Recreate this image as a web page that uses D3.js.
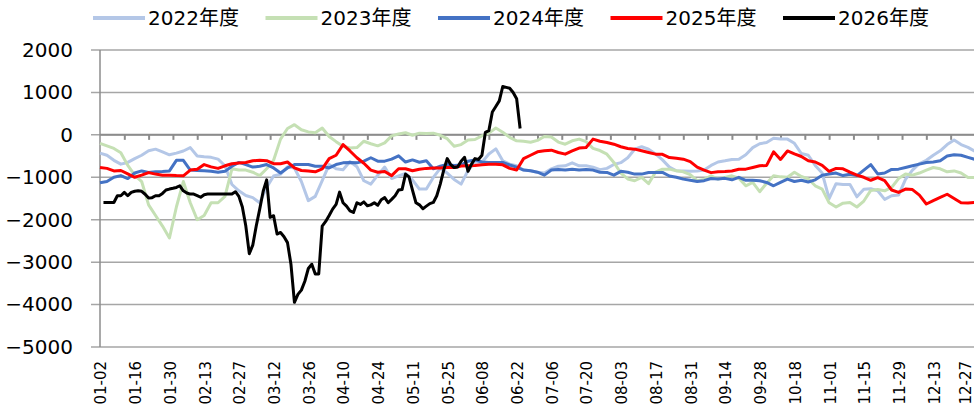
<!DOCTYPE html>
<html>
<head>
<meta charset="utf-8">
<script src="https://cdn.jsdelivr.net/npm/d3@7"></script>
<style>
  body { margin: 0; background: #fff; }
  text { font-family: 'DejaVu Sans', 'Noto Sans CJK SC', sans-serif; fill: #000; }
</style>
</head>
<body>
<script>
const years = ['2022年度', '2023年度', '2024年度', '2025年度', '2026年度']
const colors = ['#B4C7E7', '#C5E0B4', '#4472C4', '#FF0000', '#000000']

// label every 10 trading days
const tickLabels = ['01-02', '01-16', '01-30', '02-13', '02-27', '03-12', '03-26', '04-10', '04-24',
  '05-11', '05-25', '06-08', '06-22', '07-06', '07-20', '08-03', '08-17', '08-31', '09-14',
  '09-28', '10-18', '11-01', '11-15', '11-29', '12-13', '12-27']
const yTicks = [2000, 1000, 0, -1000, -2000, -3000, -4000, -5000]

// values every 2 trading days
const s2022 = [-430, -480, -600, -690, -650, -560, -480, -376, -337, -400,
  -470, -430, -380, -300, -500, -518, -530, -573, -729, -1170,
  -1320, -1430, -1480, -1600, -1240, -970, -925, -750, -780, -1100,
  -1550, -1450, -1080, -700, -800, -820, -630, -750, -1082, -1161,
  -950, -760, -1030, -965, -910, -1060, -1278, -1278, -1004, -790,
  -900, -1050, -1161, -840, -640, -645, -450, -330, -612, -690,
  -729, -830, -847, -880, -900, -800, -740, -729, -660, -729,
  -729, -760, -820, -790, -700, -655, -540, -340, -280, -340,
  -450, -590, -760, -847, -850, -860, -850, -830, -720, -640,
  -612, -580, -573, -470, -300, -210, -180, -80, -100, -100,
  -200, -440, -480, -720, -900, -1500, -1150, -1170, -1170, -1460,
  -1280, -1270, -1318, -1520, -1435, -1420, -1050, -830, -680, -600,
  -480, -376, -230, -120, -230, -295, -390]
const s2023 = [-200, -260, -320, -420, -720, -950, -1100, -1650, -1900, -2150,
  -2430, -1700, -1100, -1600, -2000, -1900, -1600, -1600, -1450, -800,
  -830, -830, -880, -960, -800, -600, -100, 150, 240, 120,
  70, 50, 160, -40, -160, -270, -310, -300, -150, -210,
  -259, -190, -24, 20, 50, -10, 40, 30, 40, -10,
  -90, -270, -230, -120, -110, -24, 40, 160, 60, -60,
  -141, -150, -175, -130, -40, -50, -170, -220, -140, -100,
  -160, -320, -370, -455, -650, -900, -1040, -1082, -1004, -1150,
  -880, -808, -808, -847, -870, -940, -1080, -1050, -965, -1043,
  -1004, -965, -1020, -1200, -1122, -1340, -1140, -965, -990, -1000,
  -880, -980, -1040, -1200, -1278, -1600, -1700, -1610, -1593, -1700,
  -1560, -1310, -1290, -1318, -1240, -1030, -925, -950, -900, -830,
  -769, -800, -870, -850, -900, -1004, -1004]
const s2024 = [-1130, -1100, -1000, -960, -1030, -900, -850, -886, -870, -863,
  -850, -600, -600, -830, -840, -847, -860, -880, -860, -740,
  -650, -700, -760, -740, -700, -780, -900, -780, -700, -700,
  -700, -740, -740, -780, -700, -660, -651, -660, -620, -540,
  -620, -620, -573, -494, -640, -590, -645, -612, -800, -740,
  -700, -720, -710, -620, -590, -640, -651, -651, -651, -710,
  -760, -830, -847, -880, -950, -830, -815, -830, -808, -830,
  -815, -830, -880, -886, -950, -860, -880, -925, -925, -886,
  -886, -886, -970, -1000, -1043, -1070, -1100, -1080, -1030, -1040,
  -1025, -1060, -1000, -1070, -1070, -1082, -1122, -1200, -1120, -1043,
  -1100, -1070, -1110, -1060, -950, -925, -900, -960, -930, -960,
  -830, -700, -920, -900, -815, -808, -769, -729, -690, -651,
  -640, -612, -500, -471, -480, -530, -580]
const s2025 = [-770, -790, -850, -840, -920, -1000, -950, -890, -925, -950,
  -950, -960, -965, -830, -810, -700, -755, -790, -729, -680,
  -665, -650, -610, -600, -610, -680, -680, -640, -780, -840,
  -850, -870, -800, -560, -480, -230, -380, -540, -670, -830,
  -880, -865, -960, -800, -800, -847, -810, -790, -784, -780,
  -769, -769, -735, -729, -720, -706, -695, -690, -706, -790,
  -830, -560, -480, -400, -376, -361, -416, -455, -380, -310,
  -298, -100, -150, -181, -220, -280, -320, -337, -376, -416,
  -455, -460, -535, -550, -573, -630, -760, -830, -890, -870,
  -863, -850, -810, -808, -770, -730, -720, -400, -580, -380,
  -450, -510, -610, -640, -720, -860, -790, -800, -880, -950,
  -1000, -1070, -1010, -1080, -1300, -1357, -1278, -1290, -1420, -1630,
  -1550, -1475, -1400, -1500, -1600, -1605, -1593]
// 2026: every trading day, up to 06-22
const s2026 = [null, -1593, -1593, -1593, -1593, -1435, -1435, -1357, -1435, -1357,
  -1330, -1318, -1330, -1400, -1490, -1480, -1435, -1435, -1380, -1300,
  -1278, -1260, -1240, -1200, -1318, -1370, -1396, -1396, -1430, -1470,
  -1410, -1396, -1396, -1396, -1396, -1396, -1396, -1396, -1396, -1340,
  -1450, -1700, -2150, -2800, -2600, -2150, -1750, -1330, -1060, -1945,
  -1906, -2337, -2300, -2400, -2540, -3050, -3946, -3760, -3660, -3450,
  -3150, -3050, -3278, -3278, -2150, -2040, -1900, -1750, -1640, -1350,
  -1600, -1680, -1790, -1830, -1600, -1640, -1580, -1670, -1650, -1600,
  -1660, -1530, -1480, -1600, -1520, -1435, -1300, -1290, -925, -990,
  -1300, -1600, -1650, -1740, -1680, -1620, -1593, -1435, -1161, -830,
  -560, -700, -769, -760, -620, -530, -860, -690, -560, -580,
  -480, 60, 100, 540, 670, 800, 1140, 1120, 1100, 1000,
  850, 150]

const seriesData = [s2022, s2023, s2024, s2025, s2026]
const steps = [2, 2, 2, 2, 1]

let width = 974,
  height = 410,
  padding = { left: 100, right: 968, top: 50, bottom: 347 }

let svg = d3.select('body').append('svg')
  .attr('width', width)
  .attr('height', height)

let x = d3.scaleLinear().domain([0, 250]).range([padding.left, padding.right])
let y = d3.scaleLinear().domain([-5000, 2000]).range([padding.bottom, padding.top])

// horizontal grid lines (they stick out left of the axis like tick marks)
svg.append('g')
  .selectAll('line')
  .data(yTicks)
  .enter()
  .append('line')
  .attr('x1', padding.left - 9)
  .attr('x2', width)
  .attr('y1', d => y(d))
  .attr('y2', d => y(d))
  .attr('stroke', '#A6A6A6')
  .attr('stroke-width', 1.5)

// y axis labels
let axisY = d3.axisLeft(y).tickValues(yTicks).tickSize(0).tickPadding(27).tickFormat(d3.format('d'))
let gy = svg.append('g')
  .attr('transform', 'translate(' + padding.left + ',0)')
  .call(axisY)
gy.select('.domain').remove()
gy.selectAll('text').style('font-size', '20px').attr('fill', '#000')

svg.append('line')
  .attr('x1', padding.left).attr('x2', padding.left)
  .attr('y1', padding.top).attr('y2', padding.bottom)
  .attr('stroke', '#8C8C8C')
  .attr('stroke-width', 1.5)

// x axis line at zero with small tick marks every 7 days
let axisX = d3.axisBottom(x).tickValues(d3.range(7, 253, 7)).tickSize(5).tickSizeOuter(0).tickFormat('')
let gx = svg.append('g')
  .attr('transform', 'translate(0,' + y(0) + ')')
  .call(axisX)
gx.select('.domain').attr('d', 'M' + padding.left + ',0H' + width).attr('stroke', '#8C8C8C').attr('stroke-width', 2)
gx.selectAll('.tick line').attr('stroke', '#8C8C8C').attr('stroke-width', 2)

// category labels along the bottom (last one nudged in so it is not cut)
svg.append('g')
  .selectAll('text')
  .data(tickLabels)
  .enter()
  .append('text')
  .attr('transform', (d, i) => 'translate(' + Math.min(x(i * 10) + 1, width - 8) + ',361) rotate(-90)')
  .attr('text-anchor', 'end')
  .attr('dy', '0.36em')
  .style('font-size', '15px')
  .text(d => d)

// series
seriesData.forEach((vals, k) => {
  let line = d3.line()
    .defined(d => d != null)
    .x((d, i) => x(i * steps[k]))
    .y(d => y(d))
  svg.append('path')
    .datum(vals)
    .attr('fill', 'none')
    .attr('stroke', colors[k])
    .attr('stroke-width', 3)
    .attr('stroke-linejoin', 'round')
    .attr('d', line)
})

// legend
let legend = svg.append('g')
  .selectAll('g')
  .data(years)
  .enter()
  .append('g')
  .attr('transform', (d, i) => 'translate(' + (93 + i * 172.5) + ',18)')

legend.append('line')
  .attr('x1', 0).attr('x2', 52)
  .attr('stroke', (d, i) => colors[i])
  .attr('stroke-width', 4)

legend.append('text')
  .attr('x', 55)
  .attr('dy', '0.36em')
  .style('font-size', '20px')
  .text(d => d)
</script>
</body>
</html>
